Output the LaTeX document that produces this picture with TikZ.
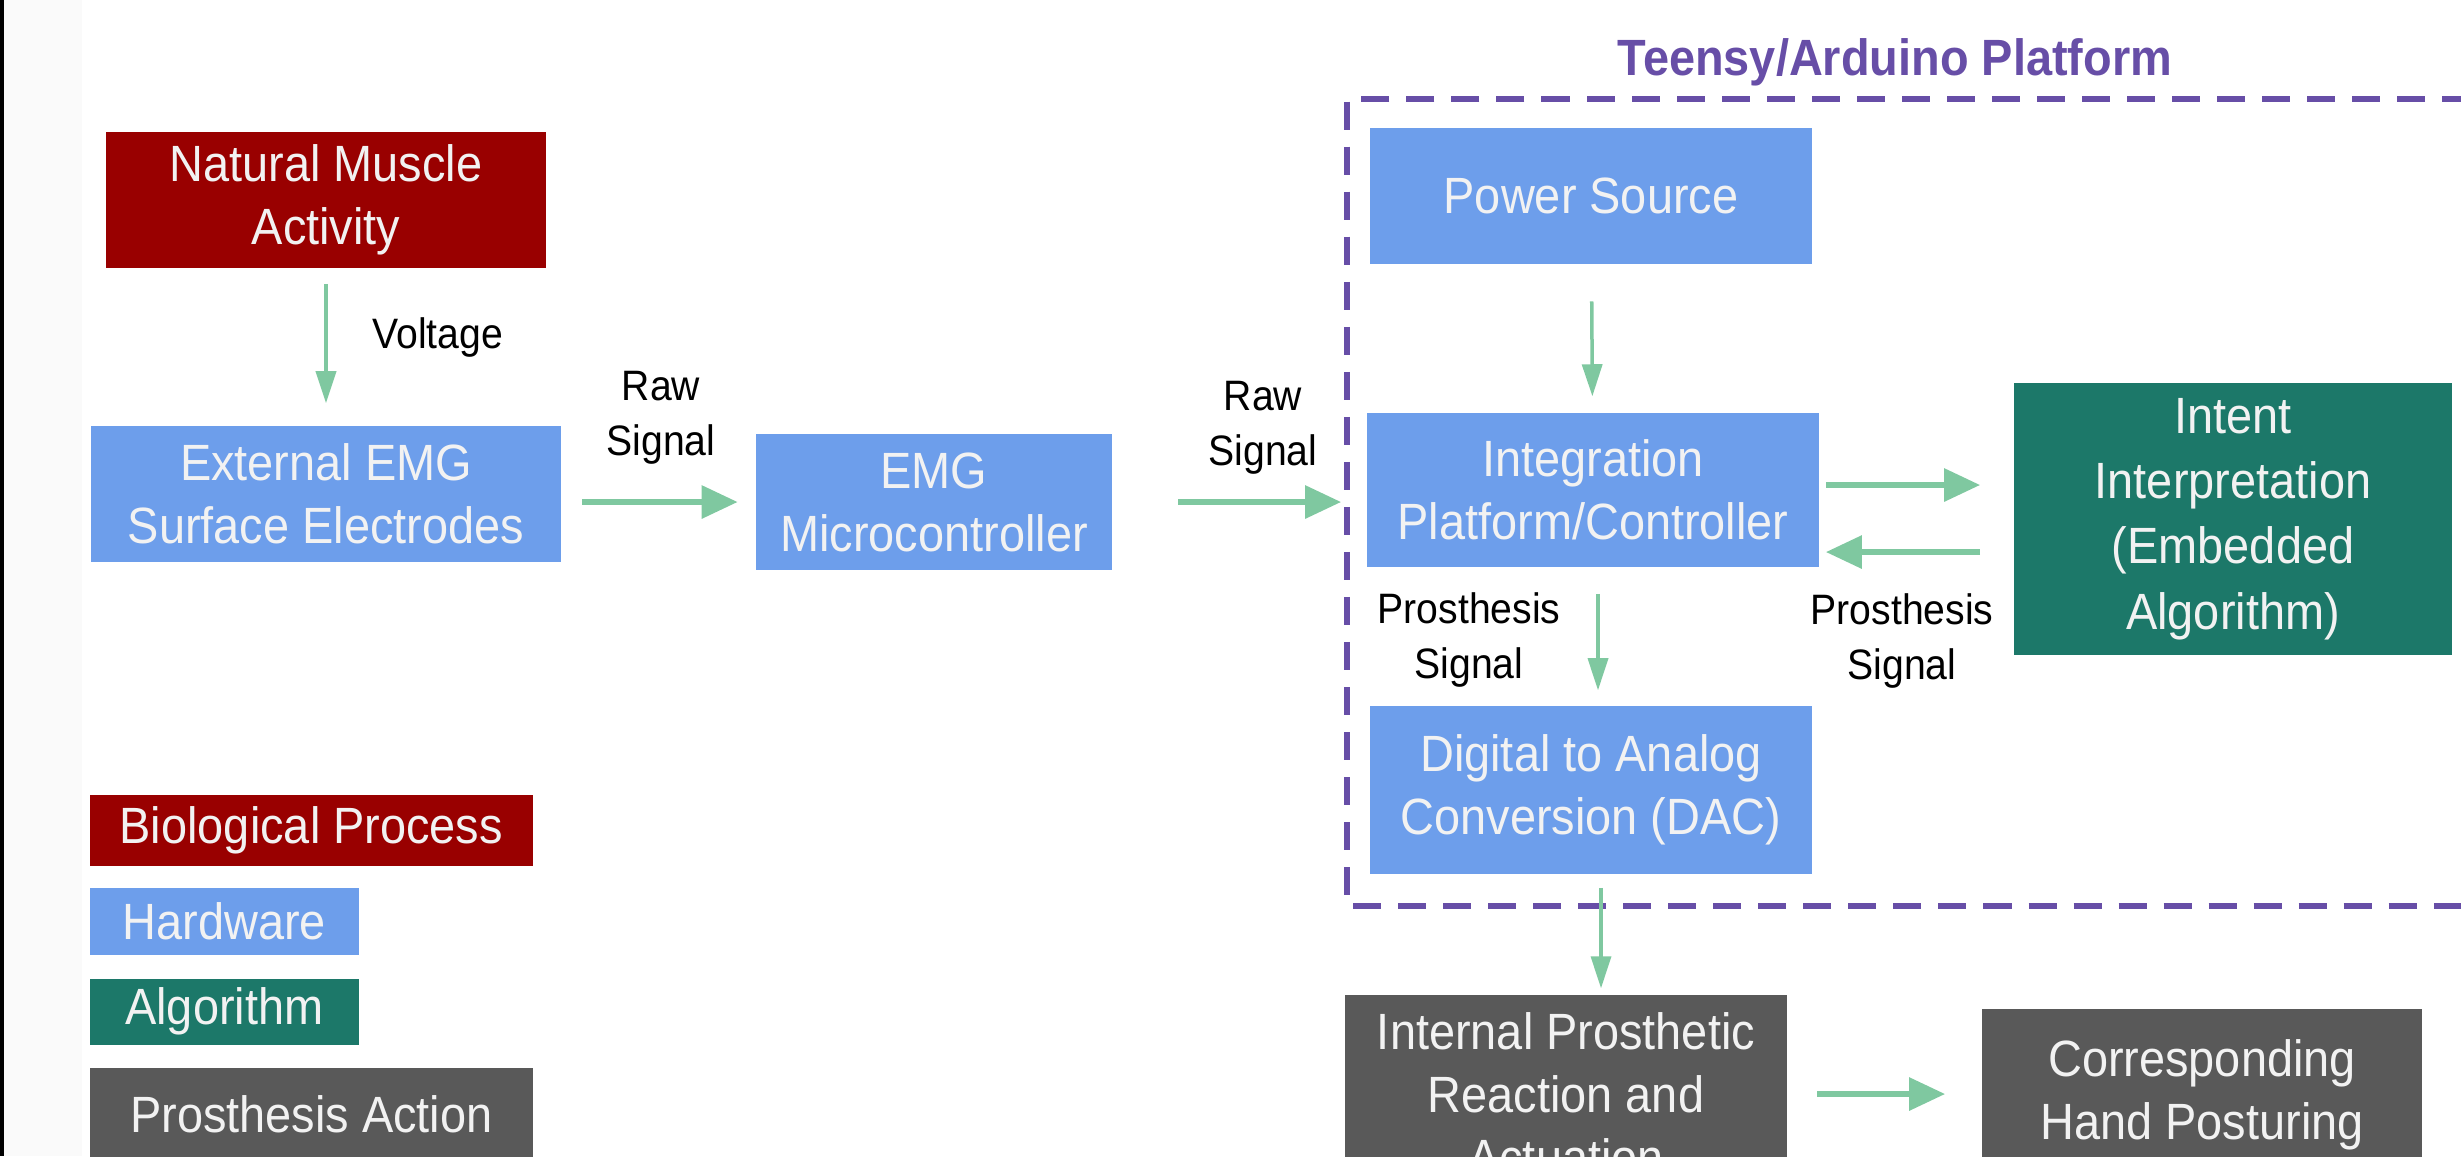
\documentclass[tikz,border=0pt]{standalone}
\usepackage{fontspec}
\setmainfont[FakeStretch=0.92]{Liberation Sans}
\usetikzlibrary{arrows.meta}
\definecolor{bio}{HTML}{990000}
\definecolor{hw}{HTML}{6D9EEB}
\definecolor{alg}{HTML}{1C7869}
\definecolor{act}{HTML}{595959}
\definecolor{flow}{HTML}{7FC8A0}
\definecolor{plat}{HTML}{674EA7}
\tikzset{
  blk/.style={rectangle, align=center, text=white!95!black, inner sep=0pt,
    font=\fontsize{14.5}{17.9}\selectfont},
  legendbox/.style={rectangle, anchor=north west, text=white!95!black,
    inner sep=0pt, font=\fontsize{14.5}{17.9}\selectfont},
  lbl/.style={align=center, font=\fontsize{12.1}{15.6}\selectfont},
  fat/.style={draw=flow, line width=0.06cm, -{Triangle[length=0.36cm,width=0.32cm]}},
  slim/.style={draw=flow, line width=0.035cm, -{Triangle[length=0.32cm,width=0.2cm]}},
}
\begin{document}
\begin{tikzpicture}[x=0.01cm, y=-0.01cm]
\useasboundingbox (0,0) rectangle (2461,1156);
\clip (0,0) rectangle (2461,1156);
\fill[black!2] (4,0) rectangle (82,1156);
\fill[black] (0,0) rectangle (4,1156);

\node[blk, fill=bio, minimum width=4.39cm, minimum height=1.36cm] (nat) at (326,200) {Natural Muscle\\Activity};
\node[blk, fill=hw, minimum width=4.69cm, minimum height=1.36cm] (ext) at (326,494) {External EMG\\Surface Electrodes};
\node[blk, fill=hw, minimum width=3.55cm, minimum height=1.36cm] (micro) at (934,502) {EMG\\Microcontroller};

\node[blk, fill=hw, minimum width=4.41cm, minimum height=1.35cm] (power) at (1591,196) {Power Source};
\node[blk, fill=hw, minimum width=4.52cm, minimum height=1.54cm] (integ) at (1593,490) {Integration\\Platform/Controller};
\node[blk, fill=alg, minimum width=4.38cm, minimum height=2.72cm, font=\fontsize{14.5}{18.6}\selectfont] (intent) at (2233,519) {Intent\\Interpretation\\(Embedded\\Algorithm)};
\node[blk, fill=hw, minimum width=4.41cm, minimum height=1.68cm] (dac) at (1591,790) {Digital to Analog\\Conversion (DAC)};

\node[blk, fill=act, minimum width=4.41cm, minimum height=1.98cm] (intern) at (1566,1094) {Internal Prosthetic\\Reaction and\\Actuation};
\node[blk, fill=act, minimum width=4.40cm, minimum height=1.72cm] (hand) at (2202,1095) {Corresponding\\Hand Posturing};

\node[legendbox, fill=bio, minimum width=4.43cm, minimum height=0.71cm] (kbio) at (89,794) {Biological Process};
\node[legendbox, fill=hw, minimum width=2.69cm, minimum height=0.67cm] (khw) at (89,887) {Hardware};
\node[legendbox, fill=alg, minimum width=2.69cm, minimum height=0.66cm] (kalg) at (89,978) {Algorithm};
\node[legendbox, fill=act, minimum width=4.43cm, minimum height=0.94cm] (kact) at (89,1067) {Prosthesis Action};

\node[font=\bfseries\fontsize{14.5}{17.9}\selectfont, text=plat] (title) at (1895,62) {Teensy/Arduino Platform};
\draw[plat, line width=0.06cm, dash pattern=on 0.28cm off 0.17cm] (2470,99) -- (1347,99) -- (1347,906) -- (2470,906);

\node[lbl, anchor=west] (volt) at (360,337) {Voltage};
\node[lbl] (raw1) at (661,418) {Raw\\Signal};
\node[lbl] (raw2) at (1263,428) {Raw\\Signal};
\node[lbl] (ps1) at (1469,640) {Prosthesis\\Signal};
\node[lbl] (ps2) at (1902,641) {Prosthesis\\Signal};

\draw[slim, shorten <=0.15cm, shorten >=0.22cm] (nat) -- (ext);
\draw[fat, shorten <=0.21cm, shorten >=0.18cm] (ext.east |- micro) -- (micro.west);
\draw[fat, shorten <=0.66cm, shorten >=0.25cm] (micro.east) -- (micro.east -| integ.west);
\draw[slim, shorten <=0.37cm, shorten >=0.16cm] (power) -- (integ);
\draw[fat, shorten <=0.06cm, shorten >=0.33cm] ([yshift=0.05cm]integ.east) -- ([yshift=0.05cm]integ.east -| intent.west);
\draw[fat, shorten <=0.33cm, shorten >=0.06cm] ([yshift=-0.62cm]integ.east -| intent.west) -- ([yshift=-0.62cm]integ.east);
\draw[slim, shorten <=0.26cm, shorten >=0.15cm] ([xshift=0.05cm]integ.south) -- ([xshift=0.05cm]integ.south |- dac.north);
\draw[slim, shorten <=0.13cm, shorten >=0.06cm] ([xshift=0.1cm]dac.south) -- ([xshift=0.1cm]dac.south |- intern.north);
\draw[fat, shorten <=0.30cm, shorten >=0.36cm] (intern.east) -- (intern.east -| hand.west);
\end{tikzpicture}
\end{document}
